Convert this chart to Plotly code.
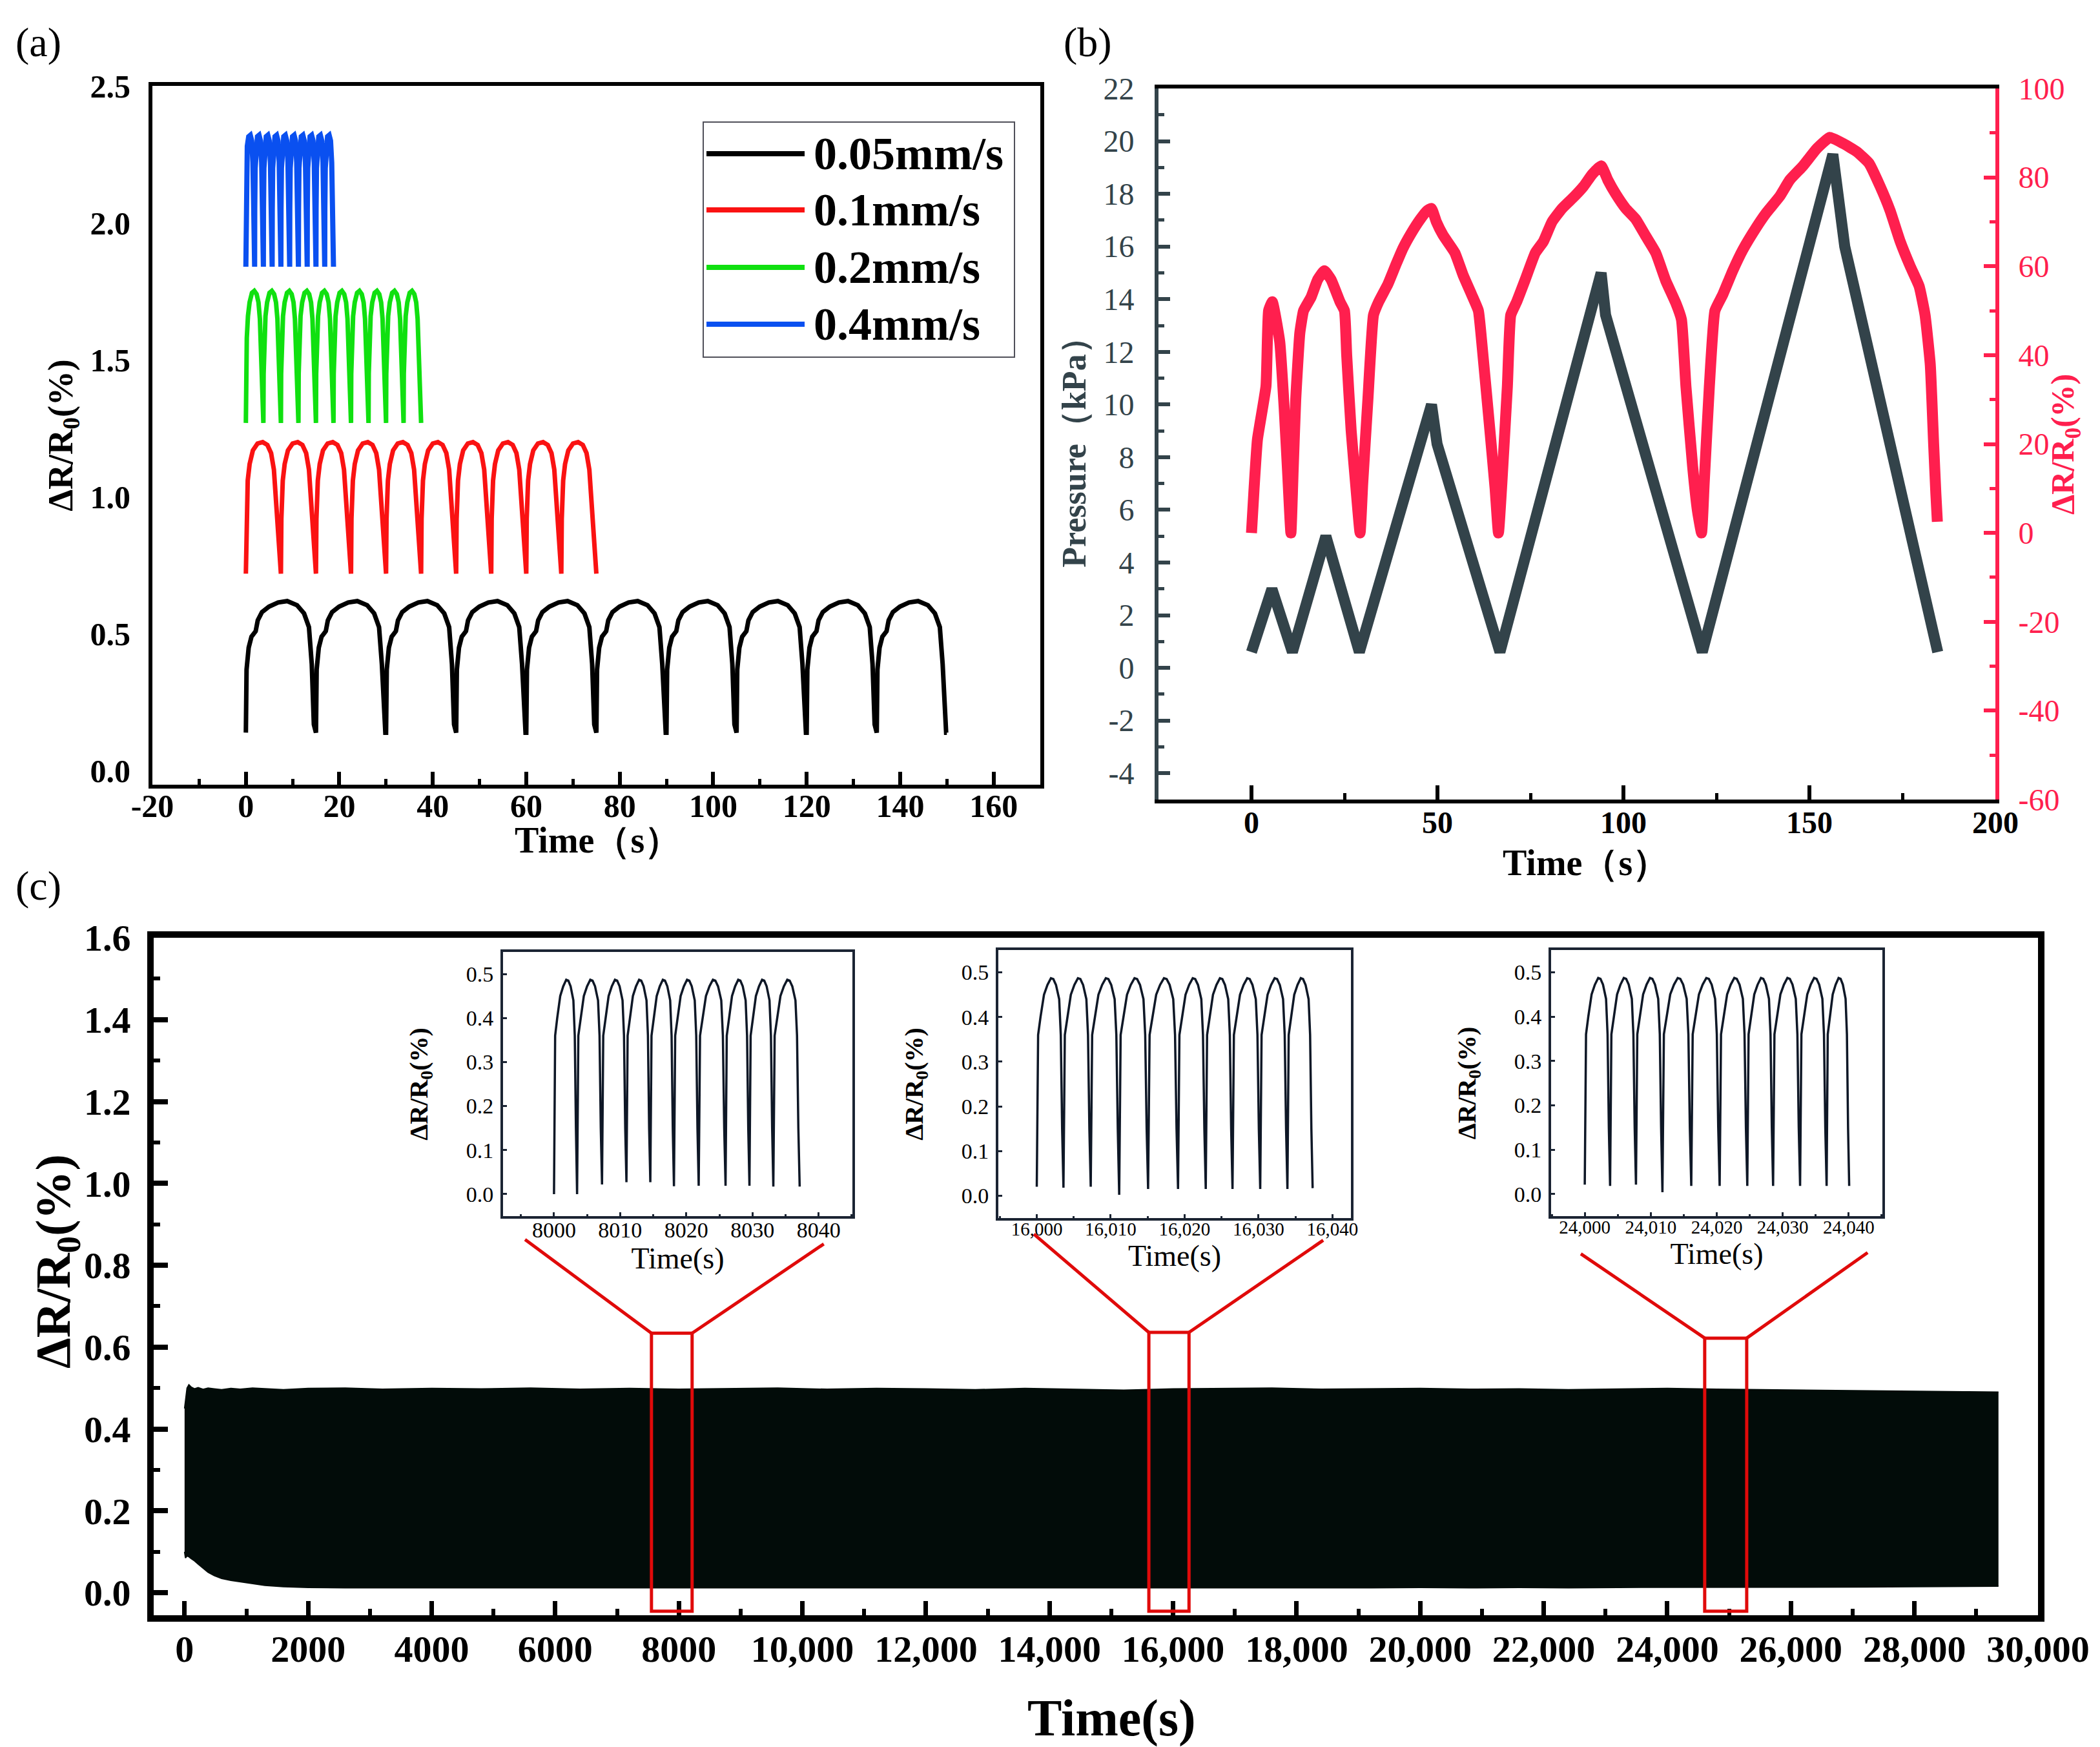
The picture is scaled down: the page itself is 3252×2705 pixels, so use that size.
import plotly.graph_objects as go

W, H = 3252, 2705
SERIF = "Liberation Serif, Times New Roman, serif"

# ---------------- panel (a): speed test, one cycle read per curve, 10 cycles each
A_NAMES = ["0.05mm/s", "0.1mm/s", "0.2mm/s", "0.4mm/s"]
A_COLORS = ["#000000", "#fa1212", "#10e010", "#0a50f0"]
A_PERIOD = [15.0, 7.5, 3.75, 1.875]
A_CYCLES = 10
# phase as a fraction of the period, value in %
A_PHASE = [
    [0, 0.01, 0.04, 0.08, 0.14, 0.17, 0.23, 0.33, 0.46, 0.59, 0.73, 0.83, 0.90, 0.94, 0.97, 0.99],
    [0, 0.013, 0.053, 0.107, 0.2, 0.333, 0.48, 0.613, 0.72, 0.8, 0.853, 0.907, 0.96, 0.99],
    [0, 0.013, 0.053, 0.12, 0.213, 0.347, 0.48, 0.613, 0.72, 0.8, 0.853, 0.92, 0.973, 0.99],
    [0, 0.016, 0.064, 0.16, 0.32, 0.507, 0.667, 0.8, 0.88, 0.95, 0.99],
]
A_VALUE = [
    [0.14, 0.37, 0.45, 0.49, 0.51, 0.55, 0.58, 0.60, 0.615, 0.62, 0.605, 0.575, 0.525, 0.39, 0.17, 0.14],
    [0.72, 0.92, 1.06, 1.12, 1.17, 1.195, 1.20, 1.19, 1.16, 1.10, 1.00, 0.88, 0.74, 0.72],
    [1.27, 1.45, 1.58, 1.66, 1.71, 1.745, 1.752, 1.74, 1.71, 1.65, 1.55, 1.40, 1.29, 1.27],
    [1.84, 2.05, 2.20, 2.28, 2.315, 2.32, 2.30, 2.22, 2.08, 1.92, 1.84],
]
A_XTICKS = [-20, 0, 20, 40, 60, 80, 100, 120, 140, 160]
A_XTEXT = ["-20", "0", "20", "40", "60", "80", "100", "120", "140", "160"]

# ---------------- panel (b): pressure steps and response
P_T = [0, 5.5, 11, 20, 29, 48.4, 49.9, 66.8, 94, 95.2, 121.2, 156.3, 159.5, 184.5]
P_V = [0.6, 3.0, 0.6, 5.0, 0.6, 10.0, 8.5, 0.6, 15.0, 13.4, 0.6, 19.5, 16.0, 0.6]
DR_T = [0, 0.7, 1.6, 3.9, 4.6, 5.6, 7.6, 8.8, 9.7, 10.6,
        11.2, 11.9, 13.0, 14.0, 16.0, 17.8, 19.6, 21.4, 23.8, 25.0, 25.6, 26.8, 28.1, 29.2,
        29.9, 31.3, 32.8, 34.2, 36.7, 38.9, 40.7, 43.0, 45.4, 47.2, 48.4, 49.7, 51.5, 54.7,
        56.9, 59.2, 61.0, 61.9, 64.0, 65.5, 66.4,
        67.3, 68.8, 69.7, 71.3, 73.6, 76.3, 78.5, 80.8, 83.5, 86.8, 89.3, 91.6, 94.0, 95.8,
        97.9, 100.6, 103.3, 106.0, 108.7, 111.4, 114.1, 115.6, 116.8, 118.6, 119.9, 121.0,
        121.7, 123.1, 124.6, 126.7, 129.4, 132.1, 135.7, 138.4, 142.0, 144.7, 148.3, 151.9,
        155.5, 159.1, 162.7, 166.0, 169.0, 171.7, 174.4, 177.1, 179.5, 181.1, 182.5, 183.4,
        184.0, 184.4]
DR_V = [0, 10, 21, 33, 50, 52, 43, 28, 14, 0,
        14, 30, 45, 50, 53, 57, 59, 57, 52, 50, 40, 23, 10, 0,
        11, 30, 49, 52, 56, 60.5, 64, 67.5, 70.6, 72.5, 73, 70, 67, 63,
        58, 53.6, 50, 43, 24, 10, 0,
        11, 33, 49, 52, 57, 63, 65.6, 70, 73, 75.7, 78, 80.7, 82.6, 79.4,
        76.3, 73, 70.6, 66.8, 63, 56.7, 51.7, 48, 33, 15, 5, 0,
        11, 33, 50, 53.6, 59, 63.7, 68.7, 72, 75.7, 79.4, 82.6, 86.4,
        89, 87.6, 85.8, 83.2, 78, 72.5, 65.6, 60, 55.5, 49, 37.8, 20,
        8.8, 2.5]
B_LTICKS = [-4, -2, 0, 2, 4, 6, 8, 10, 12, 14, 16, 18, 20, 22]
B_LTEXT = ["-4", "-2", "0", "2", "4", "6", "8", "10", "12", "14", "16", "18", "20", "22"]
B_RTICKS = [-60, -40, -20, 0, 20, 40, 60, 80, 100]
B_RTEXT = ["-60", "-40", "-20", "0", "20", "40", "60", "80", "100"]

# ---------------- panel (c): long-term cycling, envelope of the dense signal
BAND_T = [0, 15, 40, 70, 110, 160, 220, 300, 380, 480, 600, 750, 900, 1100, 1300, 1600,
          2000, 2600, 3200, 4000, 4800, 5600, 6400, 7200, 8000, 8800, 9600, 10400, 11200,
          12000, 12800, 13600, 14400, 15200, 16000, 16800, 17600, 18400, 19200, 20000,
          20800, 21600, 22400, 23200, 24000, 24800, 25600, 26400, 27200, 28000, 28800, 29360]
BAND_HI = [0.45, 0.47, 0.50, 0.508, 0.502, 0.498, 0.501, 0.497, 0.500, 0.498,
           0.496, 0.499, 0.497, 0.500, 0.498, 0.496, 0.499, 0.500, 0.497, 0.499,
           0.498, 0.500, 0.497, 0.499, 0.497, 0.498, 0.500, 0.497, 0.499, 0.498,
           0.496, 0.499, 0.497, 0.495, 0.498, 0.499, 0.500, 0.497, 0.498, 0.499,
           0.497, 0.498, 0.496, 0.497, 0.499, 0.497, 0.496, 0.494, 0.493, 0.492,
           0.491, 0.490]
BAND_LO = [0.10, 0.085, 0.09, 0.088, 0.083, 0.078, 0.07, 0.06, 0.05, 0.042,
           0.035, 0.03, 0.027, 0.022, 0.018, 0.015, 0.013, 0.012, 0.012, 0.011,
           0.012, 0.011, 0.012, 0.011, 0.012, 0.011, 0.012, 0.012, 0.011, 0.012,
           0.011, 0.012, 0.012, 0.011, 0.012, 0.012, 0.011, 0.012, 0.012, 0.013,
           0.012, 0.013, 0.012, 0.013, 0.013, 0.014, 0.013, 0.014, 0.014, 0.015,
           0.015, 0.016]
C_XTICKS = [0, 2000, 4000, 6000, 8000, 10000, 12000, 14000, 16000, 18000, 20000,
            22000, 24000, 26000, 28000, 30000]
C_XTEXT = ["0", "2000", "4000", "6000", "8000", "10,000", "12,000", "14,000", "16,000",
           "18,000", "20,000", "22,000", "24,000", "26,000", "28,000", "30,000"]

# insets: start time, times of the minima (offset), minimum values
INSET_START = [8000, 16000, 24000]
INSET_MIN_T = [
    [0, 3.49, 7.26, 10.95, 14.56, 18.13, 21.87, 25.93, 29.54, 33.15, 37.13],
    [0, 3.61, 7.30, 11.15, 15.06, 19.11, 22.86, 26.48, 30.23, 33.91, 37.32],
    [0, 3.84, 7.76, 11.77, 16.14, 20.44, 24.63, 28.54, 32.63, 36.65, 40.07],
]
INSET_MIN_V = [
    [0.0, 0.0, 0.022, 0.027, 0.027, 0.018, 0.019, 0.019, 0.019, 0.017, 0.017],
    [0.02, 0.018, 0.02, 0.002, 0.015, 0.015, 0.015, 0.015, 0.015, 0.015, 0.017],
    [0.021, 0.018, 0.021, 0.004, 0.018, 0.018, 0.018, 0.018, 0.018, 0.018, 0.018],
]
INSET_PHASE = [0.05, 0.14, 0.27, 0.40, 0.53, 0.62, 0.72, 0.84, 0.90, 0.95]
INSET_SHAPE = [0.36, 0.40, 0.45, 0.472, 0.487, 0.485, 0.472, 0.44, 0.36, 0.15]
INSET_XTICKS = [[8000, 8010, 8020, 8030, 8040],
                [16000, 16010, 16020, 16030, 16040],
                [24000, 24010, 24020, 24030, 24040]]
INSET_XTEXT = [["8000", "8010", "8020", "8030", "8040"],
               ["16,000", "16,010", "16,020", "16,030", "16,040"],
               ["24,000", "24,010", "24,020", "24,030", "24,040"]]
INSET_XRANGE = [[7992.3, 8045.1], [15994.8, 16042.5], [23994.9, 24045.1]]


def tile(period, phase, value, n):
    xs, ys = [], []
    for i in range(n):
        for p, v in zip(phase, value):
            xs.append(i * period + p * period)
            ys.append(v)
    xs.append(n * period)
    ys.append(value[0])
    return xs, ys


def inset_curve(start, min_t, min_v):
    xs, ys = [], []
    for i in range(len(min_t) - 1):
        t0, t1 = min_t[i], min_t[i + 1]
        xs.append(start + t0)
        ys.append(min_v[i])
        for p, v in zip(INSET_PHASE, INSET_SHAPE):
            xs.append(start + t0 + p * (t1 - t0))
            ys.append(v)
    xs.append(start + min_t[-1])
    ys.append(min_v[-1])
    return xs, ys


def dom_x(a, b):
    return [a / W, b / W]


def dom_y(top, bottom):
    return [1 - bottom / H, 1 - top / H]


def f(size, color="black", bold=True):
    return dict(family=SERIF, size=size, color=color, weight="bold" if bold else "normal")


fig = go.Figure()

# panel (a)
for i in range(4):
    xs, ys = tile(A_PERIOD[i], A_PHASE[i], A_VALUE[i], A_CYCLES)
    fig.add_trace(go.Scatter(x=xs, y=ys, mode="lines", name=A_NAMES[i],
                             line=dict(color=A_COLORS[i], width=7 if i < 3 else 8),
                             xaxis="x", yaxis="y", showlegend=False))

# panel (b)
SLATE = "#33434a"
PINK = "#ff1f4e"
fig.add_trace(go.Scatter(x=P_T, y=P_V, mode="lines", name="Pressure",
                         line=dict(color=SLATE, width=17), xaxis="x2", yaxis="y2",
                         showlegend=False))
fig.add_trace(go.Scatter(x=DR_T, y=DR_V, mode="lines", name="ΔR/R0",
                         line=dict(color=PINK, width=17, shape="spline", smoothing=0.4),
                         xaxis="x2", yaxis="y3", showlegend=False))

# panel (c)
BAND = "#020c09"
fig.add_trace(go.Scatter(x=BAND_T, y=BAND_LO, mode="lines", line=dict(color=BAND, width=2),
                         xaxis="x3", yaxis="y4", showlegend=False))
fig.add_trace(go.Scatter(x=BAND_T, y=BAND_HI, mode="lines", line=dict(color=BAND, width=2),
                         fill="tonexty", fillcolor=BAND, xaxis="x3", yaxis="y4",
                         showlegend=False))

for k in range(3):
    xs, ys = inset_curve(INSET_START[k], INSET_MIN_T[k], INSET_MIN_V[k])
    fig.add_trace(go.Scatter(x=xs, y=ys, mode="lines", line=dict(color="#0e1726", width=3.5),
                             xaxis="x%d" % (4 + k), yaxis="y%d" % (5 + k), showlegend=False))

layout = dict(
    width=W, height=H, autosize=False,
    margin=dict(l=0, r=0, t=0, b=0, autoexpand=False),
    paper_bgcolor="white", plot_bgcolor="white",
    font=dict(family=SERIF, color="black"),
)

# axes panel (a)
layout["xaxis"] = dict(
    domain=dom_x(228, 1603), anchor="y", range=[-20, 170],
    tickvals=A_XTICKS, ticktext=A_XTEXT,
    ticks="inside", ticklen=20, tickwidth=6, tickcolor="black",
    minor=dict(dtick=10, ticks="inside", ticklen=9, tickwidth=5, tickcolor="black"),
    showline=True, linewidth=6, linecolor="black", mirror=True, automargin=False,
    showgrid=False, zeroline=False, tickfont=f(50), ticklabelstandoff=-16)
layout["yaxis"] = dict(
    domain=dom_y(125, 1207), anchor="x", range=[-0.05, 2.5], tick0=0, dtick=0.5,
    tickformat=".1f", ticks="", showline=True, linewidth=6, linecolor="black",
    mirror=True, showgrid=False, zeroline=False, tickfont=f(50), ticklabelstandoff=18,
    automargin=False,
    title=dict(text="ΔR/R<sub>0</sub>(%)", font=f(54), standoff=12))

# axes panel (b)
layout["xaxis2"] = dict(
    domain=dom_x(1786, 3082), anchor="y2", range=[-25, 200], tick0=0, dtick=50,
    ticks="inside", ticklen=22, tickwidth=6, tickcolor="black",
    minor=dict(dtick=25, ticks="inside", ticklen=10, tickwidth=5, tickcolor="black"),
    showline=True, linewidth=6, linecolor="black", mirror=True, automargin=False,
    showgrid=False, zeroline=False, tickfont=f(48), ticklabelstandoff=-12)
layout["yaxis2"] = dict(
    domain=dom_y(129, 1230), anchor="x2", range=[-5, 22],
    tickvals=B_LTICKS, ticktext=B_LTEXT,
    ticks="inside", ticklen=18, tickwidth=6, tickcolor=SLATE,
    minor=dict(dtick=1, ticks="inside", ticklen=9, tickwidth=5, tickcolor=SLATE),
    showline=True, linewidth=6, linecolor=SLATE, showgrid=False, zeroline=False,
    tickfont=f(48, SLATE, bold=False), ticklabelstandoff=22, automargin=False,
    title=dict(text="Pressure（kPa）", font=f(52, SLATE), standoff=12))
layout["yaxis3"] = dict(
    overlaying="y2", side="right", anchor="x2", range=[-60, 100],
    tickvals=B_RTICKS, ticktext=B_RTEXT,
    ticks="inside", ticklen=18, tickwidth=6, tickcolor=PINK,
    minor=dict(dtick=10, ticks="inside", ticklen=9, tickwidth=5, tickcolor=PINK),
    showline=True, linewidth=6, linecolor=PINK, showgrid=False, zeroline=False,
    tickfont=f(48, PINK, bold=False), ticklabelstandoff=20, automargin=False)

# axes panel (c)
layout["xaxis3"] = dict(
    domain=dom_x(230, 3148), anchor="y4", range=[-500, 30000],
    tickvals=C_XTICKS, ticktext=C_XTEXT,
    ticks="inside", ticklen=22, tickwidth=7, tickcolor="black",
    minor=dict(dtick=1000, ticks="inside", ticklen=10, tickwidth=6, tickcolor="black"),
    showline=True, linewidth=10, linecolor="black", mirror=True, automargin=False,
    showgrid=False, zeroline=False, tickfont=f(58), ticklabelstandoff=-8)
layout["yaxis4"] = dict(
    domain=dom_y(1444, 2493), anchor="x3", range=[-0.055, 1.6], tick0=0, dtick=0.2,
    tickformat=".1f", ticks="inside", ticklen=22, tickwidth=8, tickcolor="black",
    minor=dict(dtick=0.1, ticks="inside", ticklen=10, tickwidth=6, tickcolor="black"),
    showline=True, linewidth=10, linecolor="black", mirror=True, automargin=False,
    showgrid=False, zeroline=False, tickfont=f(58), ticklabelstandoff=14)

# inset axes
INSET_BOX = [(771, 1312, 1466, 1875), (1538, 2084, 1463, 1878), (2394, 2907, 1463, 1875)]
INSET_TICK_SIZE = [34, 29, 29]
INK = "#1b2433"
for k in range(3):
    x0, x1, top, bottom = INSET_BOX[k]
    xa, ya = "xaxis%d" % (4 + k), "yaxis%d" % (5 + k)
    layout[xa] = dict(
        domain=dom_x(x0, x1), anchor="y%d" % (5 + k), range=INSET_XRANGE[k],
        tickvals=INSET_XTICKS[k], ticktext=INSET_XTEXT[k],
        ticks="inside", ticklen=6, tickwidth=3, tickcolor=INK,
        minor=dict(dtick=5, ticks="inside", ticklen=3, tickwidth=3, tickcolor=INK),
        showline=True, linewidth=4, linecolor=INK, mirror=True, automargin=False,
        showgrid=False, zeroline=False, tickfont=f(INSET_TICK_SIZE[k], bold=False),
        ticklabelstandoff=-12,
        title=dict(text="Time(s)", font=f(46, bold=False), standoff=0))
    layout[ya] = dict(
        domain=dom_y(top, bottom), anchor="x%d" % (4 + k), range=[-0.05, 0.55],
        tick0=0, dtick=0.1, tickformat=".1f",
        ticks="inside", ticklen=6, tickwidth=3, tickcolor=INK,
        showline=True, linewidth=4, linecolor=INK, mirror=True, automargin=False,
        showgrid=False, zeroline=False, tickfont=f(34, bold=False), ticklabelstandoff=4,
        title=dict(text="ΔR/R<sub>0</sub>(%)", font=f(40), standoff=48))

fig.update_layout(**layout)

# red zoom boxes and connector lines (panel c data coordinates)
ZOOM_X = [(7557, 8215), (15608, 16258), (24605, 25285)]
ZOOM_TOP = [0.634, 0.636, 0.622]
ZOOM_LINE_L = [(5511, 0.863), (13747, 0.876), (22600, 0.828)]
ZOOM_LINE_R = [(10346, 0.852), (18430, 0.861), (27242, 0.831)]
RED = "#e00a0a"
shapes = []
for k in range(3):
    a, b = ZOOM_X[k]
    shapes.append(dict(type="rect", xref="x3", yref="y4", x0=a, x1=b, y0=-0.045,
                       y1=ZOOM_TOP[k], line=dict(color=RED, width=5)))
    shapes.append(dict(type="line", xref="x3", yref="y4", x0=ZOOM_LINE_L[k][0],
                       y0=ZOOM_LINE_L[k][1], x1=a, y1=ZOOM_TOP[k],
                       line=dict(color=RED, width=5)))
    shapes.append(dict(type="line", xref="x3", yref="y4", x0=ZOOM_LINE_R[k][0],
                       y0=ZOOM_LINE_R[k][1], x1=b, y1=ZOOM_TOP[k],
                       line=dict(color=RED, width=5)))

# legend of panel (a), drawn by hand to get the long line samples
shapes.append(dict(type="rect", xref="paper", yref="paper", x0=1081 / W, x1=1563 / W,
                   y0=1 - 545 / H, y1=1 - 181 / H, line=dict(color="#50505a", width=2),
                   fillcolor="white", layer="below"))
LEG_ROWS = [230, 317, 406, 494]
annotations = []
for i in range(4):
    yy = 1 - LEG_ROWS[i] / H
    shapes.append(dict(type="line", xref="paper", yref="paper", x0=1086 / W, x1=1238 / W,
                       y0=yy, y1=yy, line=dict(color=A_COLORS[i], width=8)))
    annotations.append(dict(xref="paper", yref="paper", x=1250 / W, y=yy, text=A_NAMES[i],
                            showarrow=False, xanchor="left", yanchor="middle", font=f(72)))

# axis titles placed by hand where the automatic standoff cannot reach
TITLES = [
    ("Time（s）", 917, 1293, 56, "black", 0),
    ("Time（s）", 2447, 1328, 56, "black", 0),
    ("ΔR/R<sub>0</sub>(%)", 3190, 680, 50, PINK, -90),
    ("Time(s)", 1713, 2652, 80, "black", 0),
    ("ΔR/R<sub>0</sub>(%)", 80, 1945, 76, "black", -90),
]
for txt, xx, yy, sz, col, ang in TITLES:
    annotations.append(dict(xref="paper", yref="paper", x=xx / W, y=1 - yy / H, text=txt,
                            showarrow=False, xanchor="center", yanchor="middle",
                            textangle=ang, font=f(sz, col)))

for lab, xx, yy in [("(a)", 52, 58), ("(b)", 1676, 58), ("(c)", 52, 1363)]:
    annotations.append(dict(xref="paper", yref="paper", x=xx / W, y=1 - yy / H, text=lab,
                            showarrow=False, xanchor="center", yanchor="middle",
                            font=f(64, bold=False)))

fig.update_layout(shapes=shapes, annotations=annotations)

fig.write_html("out.html")
